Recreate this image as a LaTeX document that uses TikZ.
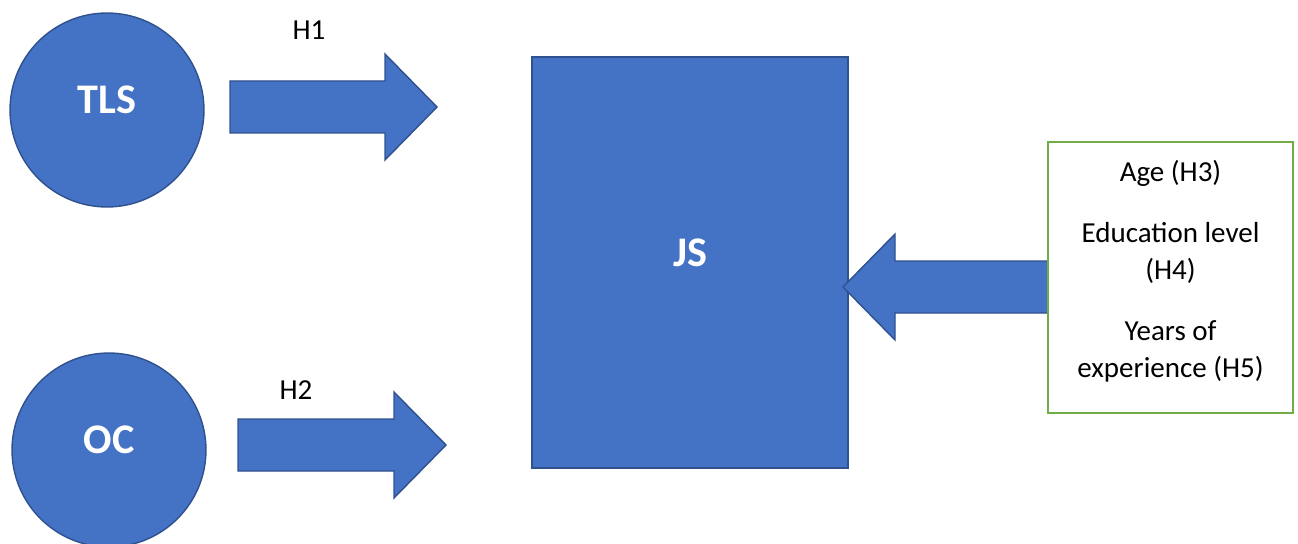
\documentclass[tikz,border=0pt]{standalone}
\usepackage{fontspec}
\setmainfont{Carlito}
\usepackage{tikz}
\usetikzlibrary{positioning}
\definecolor{boxblue}{HTML}{4472C4}
\definecolor{edgeblue}{HTML}{2F528F}
\definecolor{boxgreen}{HTML}{70AD47}

\begin{document}
\begin{tikzpicture}[x=0.02cm, y=-0.02cm, line width=0.8pt]
\tikzstyle{construct} = [fill=boxblue, draw=edgeblue, inner sep=0pt]
\tikzstyle{caption} = [text=white, font=\fontsize{24}{28}\selectfont\bfseries, yshift=0.2cm]
\tikzstyle{fat} = [fill=boxblue, draw=edgeblue, line join=miter]
\tikzstyle{hyp} = [font=\fontsize{16.5}{21}\selectfont]
\useasboundingbox (0,0) rectangle (1298,544);
% constructs
\node[construct, circle, minimum size=3.88cm, label={[caption]center:TLS}] (tls) at (107,110) {};
\node[construct, circle, minimum size=3.88cm, label={[caption]center:OC}] (oc) at (109,450) {};
\node[construct, minimum width=6.32cm, minimum height=8.22cm, label={[caption]center:JS}] (js) at (690,262.5) {};
% block arrows
\coordinate (h1tail) at (230,107);
\coordinate (h1tip) at (437,107);
\coordinate (h2tail) at (238,445);
\coordinate (h2tip) at (446,445);
\coordinate (ctrltail) at (1050,287);
\coordinate (ctrltip) at (843,287);
\draw[fat] (h1tail) ++(0,-26) -- ++(155,0) -- ++(0,-27) -- (h1tip) -- ++(-52,53) -- ++(0,-27) -- ++(-155,0) -- cycle;
\draw[fat] (h2tail) ++(0,-26) -- ++(156,0) -- ++(0,-27) -- (h2tip) -- ++(-52,53) -- ++(0,-27) -- ++(-156,0) -- cycle;
\draw[fat] (ctrltail) ++(0,-26) -- ++(-155,0) -- ++(0,-27) -- (ctrltip) -- ++(52,53) -- ++(0,-27) -- ++(155,0) -- cycle;
\node[hyp] (h1) at (309,30) {H1};
\node[hyp] (h2) at (296,390) {H2};
% control variables
\node[draw=boxgreen, line width=1.1pt, fill=white, minimum width=4.9cm, minimum height=5.42cm,
	label={[hyp, align=center, yshift=0.12cm]center:{Age (H3)\\[0.48cm] Education level\\(H4)\\[0.48cm] Years of\\experience (H5)}}] (ctrl) at (1170.5,277.5) {};
\end{tikzpicture}
\end{document}
